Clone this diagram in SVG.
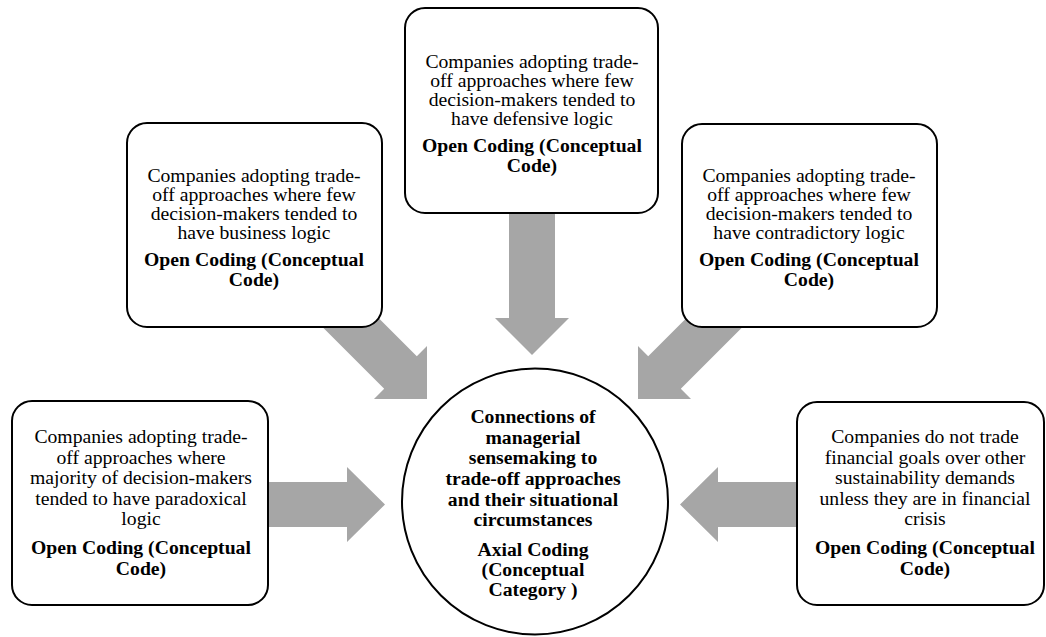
<svg xmlns="http://www.w3.org/2000/svg" width="1046" height="637" viewBox="0 0 1046 637">
<style>
.box{fill:#fff;stroke:#000;stroke-width:2}
.arr{fill:#a6a6a6;stroke:none}
text{font-family:"Liberation Serif","Times New Roman",serif;font-size:19.7px;fill:#000;text-anchor:middle}
.b{font-weight:bold}
</style>
<rect width="1046" height="637" fill="#fff"/>
<g id="connectors">
<polygon class="arr" points="509,200 555,200 555,318 569,318 532,355 495,318 509,318"/>
<polygon class="arr" points="255,482 347,482 347,467 385,504.5 347,542 347,527 255,527"/>
<polygon class="arr" points="810,482 718,482 718,467 680,504.5 718,542 718,527 810,527"/>
<polygon class="arr" points="346.8,286.2 416.8,356.2 427,346 427,399 374,399 384.2,388.8 314.2,318.8"/>
<polygon class="arr" points="718.2,286.2 648.2,356.2 638,346 638,399 691,399 680.8,388.8 750.8,318.8"/>
</g>
<g id="top">
<rect class="box" x="405" y="8" width="253" height="205" rx="20"/>
<text x="532" y="68">Companies adopting trade-</text>
<text x="532" y="87">off approaches where few</text>
<text x="532" y="106">decision-makers tended to</text>
<text x="532" y="125">have defensive logic</text>
<text class="b" x="532" y="152">Open Coding (Conceptual</text>
<text class="b" x="532" y="172">Code)</text>
</g>
<g id="top-left">
<rect class="box" x="127" y="123" width="255" height="204" rx="20"/>
<text x="254" y="182">Companies adopting trade-</text>
<text x="254" y="201">off approaches where few</text>
<text x="254" y="220">decision-makers tended to</text>
<text x="254" y="239">have business logic</text>
<text class="b" x="254" y="266">Open Coding (Conceptual</text>
<text class="b" x="254" y="286">Code)</text>
</g>
<g id="top-right">
<rect class="box" x="682" y="124" width="255" height="203" rx="20"/>
<text x="809" y="182">Companies adopting trade-</text>
<text x="809" y="201">off approaches where few</text>
<text x="809" y="220">decision-makers tended to</text>
<text x="809" y="239">have contradictory logic</text>
<text class="b" x="809" y="266">Open Coding (Conceptual</text>
<text class="b" x="809" y="286">Code)</text>
</g>
<g id="bottom-left">
<rect class="box" x="12" y="401" width="256" height="204" rx="20"/>
<text x="141" y="443">Companies adopting trade-</text>
<text x="141" y="463.5">off approaches where</text>
<text x="141" y="484">majority of decision-makers</text>
<text x="141" y="504.5">tended to have paradoxical</text>
<text x="141" y="525">logic</text>
<text class="b" x="141" y="554">Open Coding (Conceptual</text>
<text class="b" x="141" y="575">Code)</text>
</g>
<g id="bottom-right">
<rect class="box" x="797" y="402" width="247" height="203" rx="20"/>
<text x="925" y="443">Companies do not trade</text>
<text x="925" y="463.5">financial goals over other</text>
<text x="925" y="484">sustainability demands</text>
<text x="925" y="504.5">unless they are in financial</text>
<text x="925" y="525">crisis</text>
<text class="b" x="925" y="554">Open Coding (Conceptual</text>
<text class="b" x="925" y="575">Code)</text>
</g>
<g id="center">
<circle class="box" cx="535" cy="501.5" r="133"/>
<text class="b" x="533" y="423">Connections of</text>
<text class="b" x="533" y="444">managerial</text>
<text class="b" x="533" y="464">sensemaking to</text>
<text class="b" x="533" y="485">trade-off approaches</text>
<text class="b" x="533" y="506">and their situational</text>
<text class="b" x="533" y="526">circumstances</text>
<text class="b" x="533" y="556">Axial Coding</text>
<text class="b" x="533" y="576">(Conceptual</text>
<text class="b" x="533" y="596">Category )</text>
</g>
</svg>
